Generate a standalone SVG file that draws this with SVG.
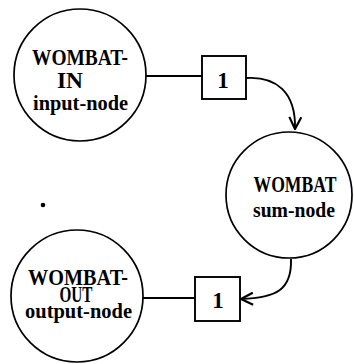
<svg xmlns="http://www.w3.org/2000/svg" width="354" height="364" viewBox="0 0 354 364">
<style>
.node{fill:#fff;stroke:#000;stroke-width:1.7}
.box{fill:#fff;stroke:#000;stroke-width:1.9}
.cap{font-family:"Liberation Serif",serif;font-weight:bold;font-size:23px;fill:#000}
.low{font-family:"Liberation Serif",serif;font-weight:bold;font-size:21px;fill:#000}
.mid{text-anchor:middle}
.edge{fill:none;stroke:#000;stroke-width:1.9}
</style>
<defs>
<marker id="arr" viewBox="0 0 14 14" refX="13" refY="7" markerWidth="14" markerHeight="14" markerUnits="userSpaceOnUse" orient="auto">
<path d="M1,1 L13,7 L1,13" fill="none" stroke="#000" stroke-width="2.2"/>
</marker>
</defs>
<rect width="354" height="364" fill="#fff"/>
<g id="connectors">
<line class="edge" x1="146" y1="76" x2="202" y2="76"/>
<path class="edge" d="M246,78 C276,76 296,92 295,129" marker-end="url(#arr)"/>
<path class="edge" d="M291,259 C292,290 276,298 241,299" marker-end="url(#arr)"/>
<line class="edge" x1="142" y1="298" x2="195" y2="298"/>
</g>
<g id="wombat-in">
<circle class="node" cx="80" cy="75" r="66"/>
<text class="cap mid" x="80" y="65" textLength="96" lengthAdjust="spacingAndGlyphs">WOMBAT-</text>
<text class="cap mid" x="70" y="88" textLength="26" lengthAdjust="spacingAndGlyphs">IN</text>
<text class="low mid" x="80.5" y="110" textLength="95" lengthAdjust="spacingAndGlyphs">input-node</text>
</g>
<g id="box1">
<rect class="box" x="202" y="56" width="44" height="43"/>
<text class="cap mid" x="223" y="88">1</text>
</g>
<g id="wombat-sum">
<circle class="node" cx="289" cy="195" r="63"/>
<text class="cap mid" x="295" y="192" font-size="21" textLength="83" lengthAdjust="spacingAndGlyphs">WOMBAT</text>
<text class="low mid" x="294" y="217" textLength="82" lengthAdjust="spacingAndGlyphs">sum-node</text>
</g>
<g id="box2">
<rect class="box" x="195" y="277" width="45" height="44"/>
<text class="cap mid" x="218" y="308">1</text>
</g>
<g id="wombat-out">
<circle class="node" cx="77" cy="296" r="66"/>
<text class="cap mid" x="78" y="285" textLength="100" lengthAdjust="spacingAndGlyphs">WOMBAT-</text>
<text class="cap mid" x="76" y="302" textLength="33" lengthAdjust="spacingAndGlyphs">OUT</text>
<text class="low mid" x="78.5" y="318" textLength="107" lengthAdjust="spacingAndGlyphs">output-node</text>
</g>
<circle cx="43" cy="205" r="2.3" fill="#000"/>
</svg>
